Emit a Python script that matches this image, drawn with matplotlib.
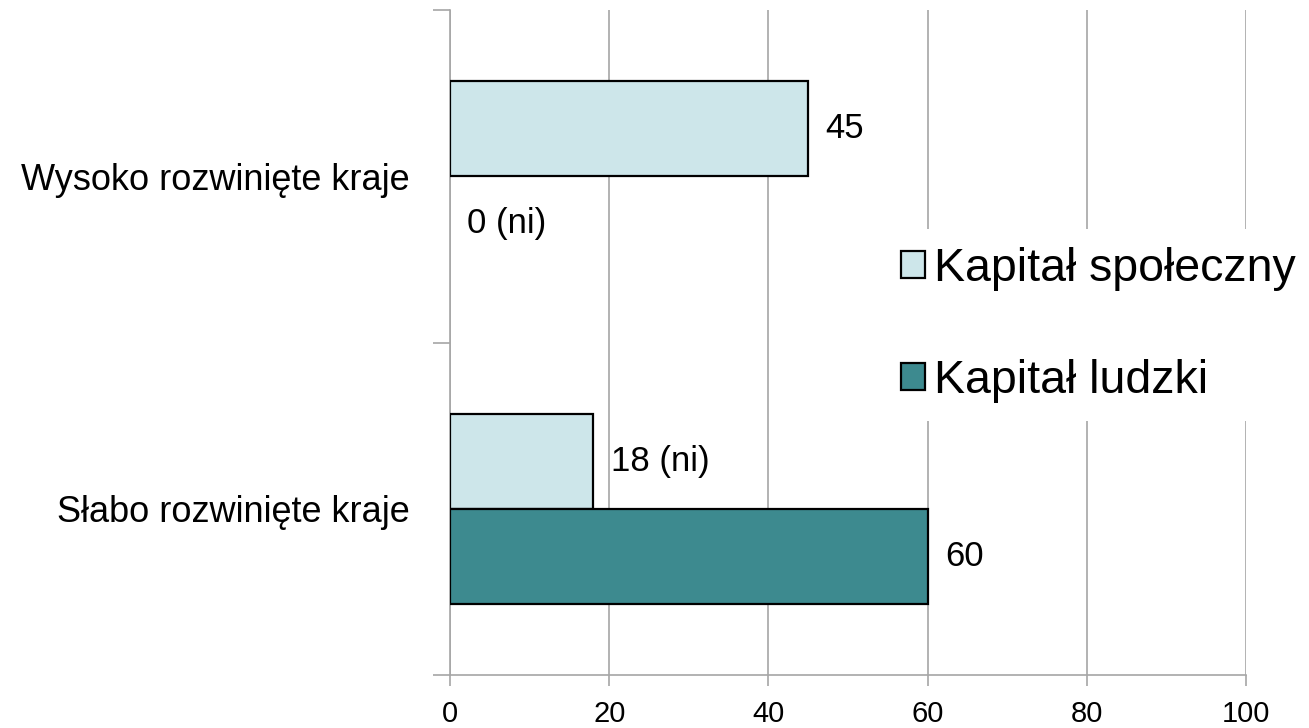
import matplotlib
matplotlib.use("Agg")
import matplotlib.pyplot as plt
from matplotlib.ticker import FixedLocator, NullFormatter

plt.rcParams['font.family'] = ['Liberation Sans', 'DejaVu Sans']

categories = ["Słabo rozwinięte kraje", "Wysoko rozwinięte kraje"]
series_names = ["Kapitał społeczny", "Kapitał ludzki"]
spoleczny = [18, 45]
ludzki = [60, 0]
spoleczny_labels = ["18 (ni)", "45"]
ludzki_labels = ["60", "0 (ni)"]
x_ticks = [0, 20, 40, 60, 80, 100]

light = "#CDE6EA"
dark = "#3D8A8F"
grid_gray = "#A6A6A6"

fig = plt.figure(figsize=(13.09, 7.28), dpi=100)
ax = fig.add_axes([450/1309, 1-675/728, (1246-450)/1309, (675-10)/728])

h = 0.286
ypos = list(range(len(categories)))
b1 = ax.barh([y + h/2 for y in ypos], spoleczny, height=h, color=light,
             edgecolor="black", linewidth=1.6, label=series_names[0], zorder=3)
b2 = ax.barh([y - h/2 for y in ypos], ludzki, height=h, color=dark,
             edgecolor="black", linewidth=1.6, label=series_names[1], zorder=3)

# zero-valued bars show no outline
for cont, vals in ((b1, spoleczny), (b2, ludzki)):
    for patch, v in zip(cont.patches, vals):
        if v == 0:
            patch.set_visible(False)

for y, v, t in zip(ypos, spoleczny, spoleczny_labels):
    ax.annotate(t, (v, y + h/2), xytext=(12.5, 0), textcoords="offset points",
                va="center", ha="left", fontsize=25)
for y, v, t in zip(ypos, ludzki, ludzki_labels):
    ax.annotate(t, (v, y - h/2), xytext=(12.5, 0), textcoords="offset points",
                va="center", ha="left", fontsize=25)

ax.set_xlim(0, 100)
ax.set_ylim(-0.5, 1.5)
ax.set_xticks(x_ticks)
ax.set_xticklabels([str(t) for t in x_ticks], fontsize=21)
ax.tick_params(axis="x", length=8, width=1.2, color=grid_gray, pad=10)

ax.yaxis.set_major_locator(FixedLocator([-0.5, 0.5, 1.5]))
ax.yaxis.set_major_formatter(NullFormatter())
ax.yaxis.set_minor_locator(FixedLocator(ypos))
ax.set_yticklabels(categories, minor=True, fontsize=26)
ax.tick_params(axis="y", which="major", length=12, width=1.2, color=grid_gray)
ax.tick_params(axis="y", which="minor", length=0, pad=29)

ax.grid(axis="x", color=grid_gray, linewidth=1.2, zorder=0)
ax.set_axisbelow(True)
for s in ["top", "right"]:
    ax.spines[s].set_visible(False)
for s in ["left", "bottom"]:
    ax.spines[s].set_color(grid_gray)
    ax.spines[s].set_linewidth(1.2)

leg = fig.legend(handles=[b1, b2], loc="center left",
                 bbox_to_anchor=(882/1309, 1-325/728), fontsize=33.5,
                 frameon=True, facecolor="white", edgecolor="white",
                 framealpha=1, handlelength=0.52, handleheight=0.52,
                 handletextpad=0.2, labelspacing=1.45, borderpad=0.4,
                 borderaxespad=0)
leg.get_frame().set_linewidth(0)
leg.set_zorder(10)

fig.savefig("out.png", dpi=100)
